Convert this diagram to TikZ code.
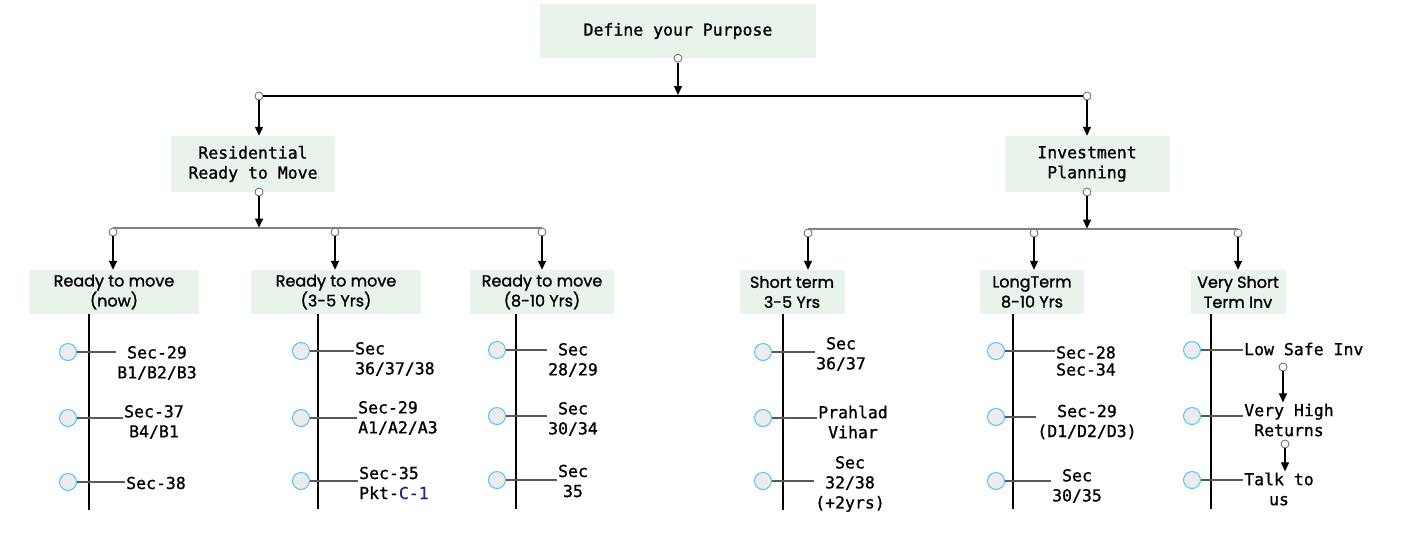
\documentclass[tikz,border=0pt]{standalone}
\usepackage{fontspec}
\setmainfont[FakeBold=1]{DejaVu Sans Mono}
\newfontfamily\headfont[FakeBold=1.2]{Poppins}
\usetikzlibrary{arrows.meta,positioning}
\definecolor{boxgreen}{RGB}{232,243,236}
\definecolor{ringblue}{RGB}{79,195,247}
\definecolor{dotgray}{RGB}{236,236,236}
\definecolor{bargray}{RGB}{128,128,128}
\definecolor{linkblue}{RGB}{30,40,110}

\begin{document}
\begin{tikzpicture}[x=1pt, y=-1pt,
    goal/.style={rectangle, fill=boxgreen, align=center, font=\fontsize{16.5}{20}\selectfont},
    head/.style={rectangle, fill=boxgreen, align=center, minimum height=44pt, inner sep=0pt, font=\headfont\fontsize{16}{20}\selectfont},
    lbl/.style={align=center, inner sep=1pt, font=\fontsize{16.5}{20}\selectfont},
    dot/.style={circle, draw=black!60, fill=white, inner sep=0pt, minimum size=8pt, line width=0.8pt},
    ring/.style={circle, draw=ringblue, fill=dotgray, inner sep=0pt, minimum size=17pt, line width=1pt},
    arrow/.style={-{Triangle[length=9pt,width=8pt]}, line width=1.2pt},
    bar/.style={line width=1.2pt},
    subbar/.style={line width=2pt, bargray},
    stem/.style={line width=2pt},
    tick/.style={line width=1.5pt, black!65}
]
\useasboundingbox (0,0) rectangle (1408,550);

% Top level
\node[goal, minimum width=276pt, minimum height=54pt] (purpose) at (678,31) {Define your Purpose};
\node[dot] (p0) at (purpose.south) {};
\node[dot] (d1) at (259,96) {};
\node[dot] (d2) at (1087,96) {};
\coordinate (pjoin) at (678,95);
\draw[bar] (d1) -- (d2);
\draw[arrow] (p0) -- (pjoin);

% Second level
\node[goal, minimum width=164pt, minimum height=56pt] (res) at (253,164) {Residential\\Ready to Move};
\node[goal, minimum width=165pt, minimum height=56pt] (inv) at (1087,164) {Investment\\Planning};
\draw[arrow] (d1) -- (d1 |- res.north);
\draw[arrow] (d2) -- (d2 |- inv.north);

% Third level (residential)
\node[dot] (rs) at (259,192) {};
\node[dot] (r1) at (113,232) {};
\node[dot] (r2) at (335,232) {};
\node[dot] (r3) at (542,232) {};
\draw[subbar] (r1.north) -- (r3.north);
\draw[arrow] (rs) -- (rs |- r1.north);

\node[head, minimum width=170pt] (now) at (114,292) {Ready to move\\(now)};
\node[head, minimum width=170pt] (mid) at (336,292) {Ready to move\\(3-5 Yrs)};
\node[head, minimum width=144pt] (late) at (542,292) {Ready to move\\(8-10 Yrs)};
\draw[arrow] (r1) -- (r1 |- now.north);
\draw[arrow] (r2) -- (r2 |- mid.north);
\draw[arrow] (r3) -- (r3 |- late.north);

% Third level (investment)
\node[dot] (is) at (1087,192) {};
\node[dot] (s1) at (808,233) {};
\node[dot] (s2) at (1034,233) {};
\node[dot] (s3) at (1238,233) {};
\draw[subbar] (s1.north) -- (s3.north);
\draw[arrow] (is) -- (is |- s1.north);

\node[head, minimum width=105pt] (short) at (792,292) {Short term\\3-5 Yrs};
\node[head, minimum width=104pt] (long) at (1032,292) {LongTerm\\8-10 Yrs};
\node[head, minimum width=95pt] (vshort) at (1238,292) {Very Short\\Term Inv};
\draw[arrow] (s1) -- (s1 |- short.north);
\draw[arrow] (s2) -- (s2 |- long.north);
\draw[arrow] (s3) -- (s3 |- vshort.north);

% Timelines
\draw[stem] (89,314) -- (89,510);
\draw[stem] (318,314) -- (318,509);
\draw[stem] (516,314) -- (516,509);
\draw[stem] (783,314) -- (783,510);
\draw[stem] (1013,314) -- (1013,509);
\draw[stem] (1211,314) -- (1211,509);

% Ready to move (now)
\node[ring] (a1) at (68,352) {};
\node[ring] (a2) at (68,418) {};
\node[ring] (a3) at (68,482) {};
\node[lbl] (a1t) at (157,363) {Sec-29\\B1/B2/B3};
\node[lbl] (a2t) at (154,422) {Sec-37\\B4/B1};
\node[lbl] (a3t) at (156,483) {Sec-38};

% Ready to move (3-5 Yrs)
\node[ring] (b1) at (301,351) {};
\node[ring] (b2) at (301,418) {};
\node[ring] (b3) at (301,481) {};
\node[lbl, align=left, anchor=west] (b1t) at (354,359) {Sec\\36/37/38};
\node[lbl, align=left, anchor=west] (b2t) at (357,418) {Sec-29\\A1/A2/A3};
\node[lbl, align=left, anchor=west] (b3t) at (358,483) {Sec-35\\Pkt-{\color{linkblue}C-1}};

% Ready to move (8-10 Yrs)
\node[ring] (c1) at (497,350) {};
\node[ring] (c2) at (497,416) {};
\node[ring] (c3) at (497,480) {};
\node[lbl] (c1t) at (573,360) {Sec\\28/29};
\node[lbl] (c2t) at (573,419) {Sec\\30/34};
\node[lbl] (c3t) at (573,481) {Sec\\35};

% Short term
\node[ring] (e1) at (763,352) {};
\node[ring] (e2) at (763,418) {};
\node[ring] (e3) at (763,481) {};
\node[lbl] (e1t) at (841,354) {Sec\\36/37};
\node[lbl] (e2t) at (853,422) {Prahlad\\Vihar};
\node[lbl] (e3t) at (850,484) {Sec\\32/38\\(+2yrs)};

% LongTerm
\node[ring] (f1) at (996,351) {};
\node[ring] (f2) at (996,417) {};
\node[ring] (f3) at (996,481) {};
\node[lbl, font=\fontsize{16.5}{17}\selectfont] (f1t) at (1086,361) {Sec-28\\Sec-34};
\node[lbl] (f2t) at (1087,422) {Sec-29\\(D1/D2/D3)};
\node[lbl] (f3t) at (1077,486) {Sec\\30/35};

% Very Short Term Inv
\node[ring] (g1) at (1192,350) {};
\node[ring] (g2) at (1192,416) {};
\node[ring] (g3) at (1192,480) {};
\node[lbl, anchor=west] (g1t) at (1243,349) {Low Safe Inv};
\node[lbl] (g2t) at (1289,420) {Very High\\Returns};
\node[lbl] (g3t) at (1279,489) {Talk to\\us};
\node[dot] (g1d) at (1283,367) {};
\node[dot] (g2d) at (1285,444) {};
\draw[arrow] (g1d) -- (g1d |- g2t.north);
\draw[arrow] (g2d) -- (g2d |- g3t.north);

% ticks from rings to labels
\draw[tick] (a1) -- (a1 -| a1t.west);
\draw[tick] (a2) -- (a2 -| a2t.west);
\draw[tick] (a3) -- (a3 -| a3t.west);
\draw[tick] (b1) -- (b1 -| b1t.west);
\draw[tick] (b2) -- (b2 -| b2t.west);
\draw[tick] (b3) -- (b3 -| b3t.west);
\draw[tick] (c1) -- (c1 -| c1t.west);
\draw[tick] (c2) -- (c2 -| c2t.west);
\draw[tick] (c3) -- (c3 -| c3t.west);
\draw[tick] (e1) -- (e1 -| e1t.west);
\draw[tick] (e2) -- (e2 -| e2t.west);
\draw[tick] (e3) -- (e3 -| e3t.west);
\draw[tick] (f1) -- (f1 -| f1t.west);
\draw[tick] (f2) -- (f2 -| f2t.west);
\draw[tick] (f3) -- (f3 -| f3t.west);
\draw[tick] (g1) -- (g1 -| g1t.west);
\draw[tick] (g2) -- (g2 -| g2t.west);
\draw[tick] (g3) -- (g3 -| g3t.west);

\end{tikzpicture}
\end{document}
